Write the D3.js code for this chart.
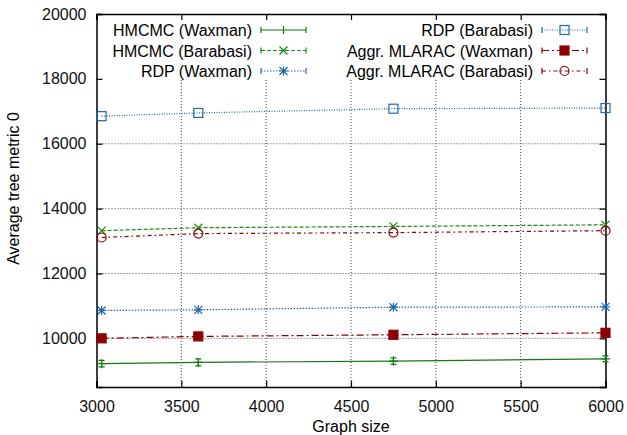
<!DOCTYPE html>
<html>
<head>
<meta charset="utf-8">
<script src="https://cdn.jsdelivr.net/npm/d3@7"></script>
<style>
  body { margin: 0; background: #fff; }
  svg text { font-family: "Liberation Sans", Arial, sans-serif; }
</style>
</head>
<body>
<svg id="chart" width="627" height="435"></svg>
<script>
// graph sizes on the x axis
let sizes = [3030, 3600, 4750, 6000];

// average tree metric per series
let hmcmcWaxman = [9220, 9260, 9300, 9370];
let hmcmcWaxmanErr = [100, 110, 100, 90];
let hmcmcBarabasi = [13320, 13410, 13450, 13500];
let rdpWaxman = [10860, 10880, 10960, 10970];
let rdpBarabasi = [16850, 16950, 17080, 17100];
let aggrWaxman = [10000, 10060, 10110, 10170];
let aggrBarabasi = [13110, 13230, 13260, 13320];

let xTicks = [3000, 3500, 4000, 4500, 5000, 5500, 6000];
let yTicks = [10000, 12000, 14000, 16000, 18000, 20000];

let series = [
    { name: 'HMCMC (Waxman)', values: hmcmcWaxman, err: hmcmcWaxmanErr, color: '#117a11', dash: null, marker: 'plus' },
    { name: 'HMCMC (Barabasi)', values: hmcmcBarabasi, color: '#1a8a1a', dash: '4,2', marker: 'cross' },
    { name: 'RDP (Waxman)', values: rdpWaxman, color: '#1f68b0', dash: '1.5,1.5', marker: 'star' },
    { name: 'RDP (Barabasi)', values: rdpBarabasi, color: '#1f68b0', dash: '1,1.5', marker: 'box' },
    { name: 'Aggr. MLARAC (Waxman)', values: aggrWaxman, color: '#8b0000', dash: '7,3,2,3', marker: 'fbox' },
    { name: 'Aggr. MLARAC (Barabasi)', values: aggrBarabasi, color: '#8b0000', dash: '4,3,1.5,3', marker: 'circle' }
];

let fontSize = '16px';

let svg = d3.select('#chart');
let margin = { left: 96.5, right: 21.5, top: 14, bottom: 48 };
let width = 627 - margin.left - margin.right;
let height = 435 - margin.top - margin.bottom;

let x = d3.scaleLinear().domain([3000, 6000]).range([0, width]);
let y = d3.scaleLinear().domain([8500, 20000]).range([height, 0]);

let g = svg.append('g')
    .attr('transform', 'translate(' + margin.left + ',' + margin.top + ')');

// grid
g.append('g').selectAll('line')
    .data(xTicks.slice(1, -1))
    .join('line')
    .attr('x1', d => x(d)).attr('x2', d => x(d))
    .attr('y1', 0).attr('y2', height)
    .attr('stroke', '#444').attr('stroke-width', 1).attr('stroke-dasharray', '1,2');
g.append('g').selectAll('line')
    .data(yTicks.slice(0, -1))
    .join('line')
    .attr('x1', 0).attr('x2', width)
    .attr('y1', d => y(d)).attr('y2', d => y(d))
    .attr('stroke', '#444').attr('stroke-width', 1).attr('stroke-dasharray', '1,2');

// legend background hides the grid
g.append('rect')
    .attr('x', 1).attr('y', 1)
    .attr('width', width - 2).attr('height', 65)
    .attr('fill', 'white');

// axes with inward ticks
let tick = 6;
g.append('g')
    .attr('transform', 'translate(0,' + height + ')')
    .call(d3.axisBottom(x).tickValues(xTicks).tickSize(-tick).tickPadding(14).tickFormat(d3.format('d')));
g.append('g')
    .call(d3.axisTop(x).tickValues(xTicks).tickSize(-tick).tickFormat(''));
g.append('g')
    .call(d3.axisLeft(y).tickValues(yTicks).tickSize(-tick).tickPadding(10).tickFormat(d3.format('d')));
g.append('g')
    .attr('transform', 'translate(' + width + ',0)')
    .call(d3.axisRight(y).tickValues(yTicks).tickSize(-tick).tickFormat(''));

g.selectAll('.domain').attr('stroke', 'black').attr('stroke-width', 1.5);
g.selectAll('.tick line').attr('stroke', 'black').attr('stroke-width', 1.2);
g.selectAll('.tick text').attr('font-size', fontSize).attr('fill', '#111')
    .attr('font-family', '"Liberation Sans", Arial, sans-serif');

// axis titles
svg.append('text')
    .attr('x', margin.left + width / 2).attr('y', 432)
    .attr('text-anchor', 'middle').attr('font-size', fontSize)
    .text('Graph size');
svg.append('text')
    .attr('transform', 'translate(19,' + (margin.top + height / 2 - 12) + ') rotate(-90)')
    .attr('text-anchor', 'middle').attr('font-size', fontSize)
    .text('Average tree metric 0');

function drawMarker(sel, type, color, cx, cy) {
    let m = sel.append('g').attr('transform', 'translate(' + cx + ',' + cy + ')')
        .attr('stroke', color).attr('stroke-width', 1.2).attr('fill', 'none');
    let r = 4.5;
    if (type === 'plus') {
        m.append('path').attr('d', 'M' + (-r) + ',0H' + r + 'M0,' + (-r) + 'V' + r);
    } else if (type === 'cross') {
        m.append('path').attr('d', 'M-4,-4L4,4M-4,4L4,-4');
    } else if (type === 'star') {
        m.append('path').attr('d', 'M-4,-4L4,4M-4,4L4,-4M' + (-r) + ',0H' + r + 'M0,' + (-r) + 'V' + r);
    } else if (type === 'box') {
        m.append('rect').attr('x', -r).attr('y', -r).attr('width', 2 * r).attr('height', 2 * r);
    } else if (type === 'fbox') {
        m.append('rect').attr('x', -r).attr('y', -r).attr('width', 2 * r).attr('height', 2 * r)
            .attr('fill', color);
    } else if (type === 'circle') {
        m.append('circle').attr('r', 4.5);
    }
}

let line = d3.line()
    .x(d => x(d[0]))
    .y(d => y(d[1]));

series.forEach(function (s) {
    let pts = sizes.map((v, i) => [v, s.values[i]]);
    g.append('path')
        .datum(pts)
        .attr('d', line)
        .attr('fill', 'none')
        .attr('stroke', s.color)
        .attr('stroke-width', 1.2)
        .attr('stroke-dasharray', s.dash);
    if (s.err) {
        pts.forEach(function (p, i) {
            let top = y(p[1] + s.err[i]), bot = y(p[1] - s.err[i]), px = x(p[0]);
            g.append('path')
                .attr('d', 'M' + px + ',' + top + 'V' + bot +
                    'M' + (px - 3) + ',' + top + 'H' + (px + 3) +
                    'M' + (px - 3) + ',' + bot + 'H' + (px + 3))
                .attr('stroke', s.color).attr('stroke-width', 1.2).attr('fill', 'none');
        });
    }
    pts.forEach(p => drawMarker(g, s.marker, s.color, x(p[0]), y(p[1])));
});

// legend
let legend = svg.append('g');
series.forEach(function (s, i) {
    let col = Math.floor(i / 3), row = i % 3;
    let textX = col === 0 ? 252 : 533;
    let x0 = col === 0 ? 261 : 542;
    let x1 = x0 + 45;
    let ly = 30 + row * 20.5;
    legend.append('text')
        .attr('x', textX).attr('y', ly + 6)
        .attr('text-anchor', 'end').attr('font-size', fontSize)
        .text(s.name);
    legend.append('path')
        .attr('d', 'M' + x0 + ',' + ly + 'H' + x1)
        .attr('stroke', s.color).attr('stroke-width', 1.2)
        .attr('stroke-dasharray', s.dash).attr('fill', 'none');
    legend.append('path')
        .attr('d', 'M' + x0 + ',' + (ly - 3) + 'V' + (ly + 3) + 'M' + x1 + ',' + (ly - 3) + 'V' + (ly + 3))
        .attr('stroke', s.color).attr('stroke-width', 1.2);
    if (s.marker === 'plus') {
        legend.append('path')
            .attr('d', 'M' + (x0 + x1) / 2 + ',' + (ly - 4) + 'V' + (ly + 4))
            .attr('stroke', s.color).attr('stroke-width', 1.2);
    } else {
        drawMarker(legend, s.marker, s.color, (x0 + x1) / 2, ly);
    }
});
</script>
</body>
</html>
